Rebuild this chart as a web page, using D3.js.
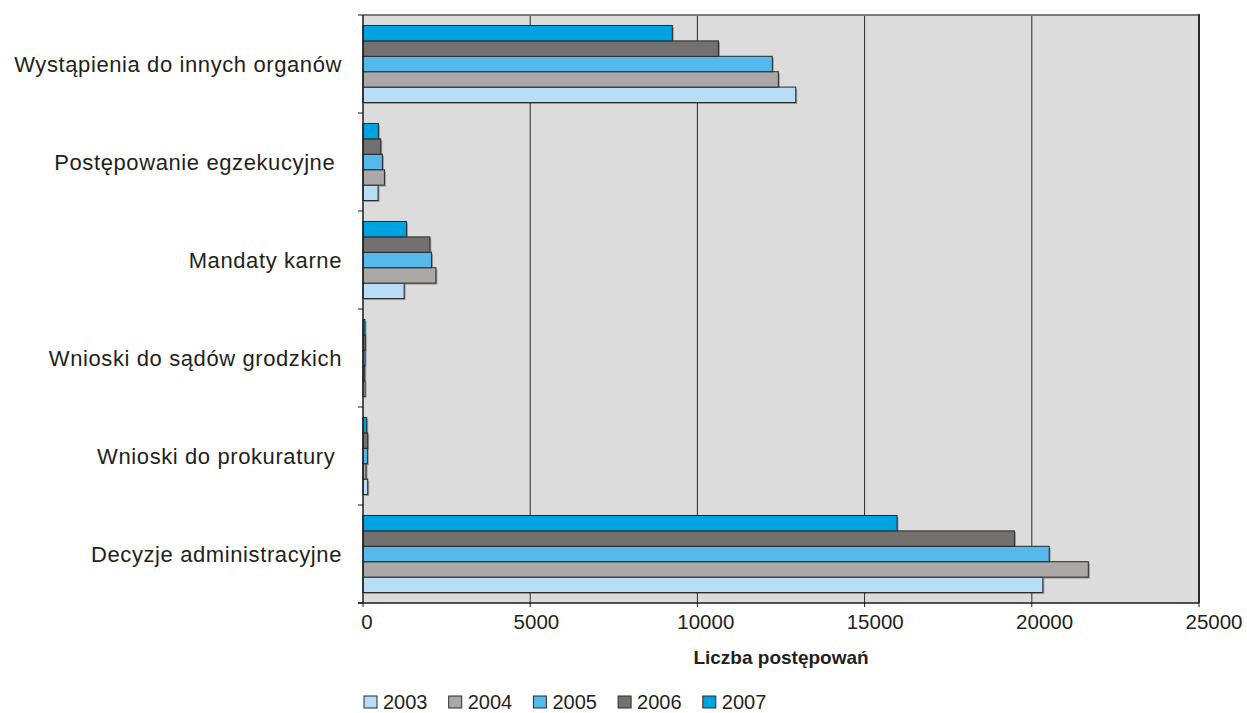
<!DOCTYPE html>
<html>
<head>
<meta charset="utf-8">
<script src="https://cdn.jsdelivr.net/npm/d3@7"></script>
<style>
  body { margin: 0; background: #fff; }
  svg text { font-family: "Liberation Sans", Arial, sans-serif; fill: #231f20; }
</style>
</head>
<body>
<svg id="chart"></svg>
<script>
// Dane wykresu
const categories = [
    "Wystąpienia do innych organów",
    "Postępowanie egzekucyjne ",
    "Mandaty karne",
    "Wnioski do sądów grodzkich",
    "Wnioski do prokuratury ",
    "Decyzje administracyjne"
];
const years = ["2003", "2004", "2005", "2006", "2007"];
const values2003 = [12940, 450, 1230, 60, 140, 20330];
const values2004 = [12420, 640, 2180, 50, 90, 21690];
const values2005 = [12240, 580, 2050, 60, 130, 20520];
const values2006 = [10630, 530, 2000, 70, 140, 19480];
const values2007 = [9250, 460, 1300, 60, 110, 15970];
const xTicks = [0, 5000, 10000, 15000, 20000, 25000];
const colors = ["#b7def6", "#aaa9a7", "#56b9eb", "#72716f", "#00a3e2"];

const series = [values2003, values2004, values2005, values2006, values2007];

const width = 1247, height = 713;
const margin = { top: 15, right: 48, bottom: 110, left: 363 };

const svg = d3.select("#chart")
    .attr("width", width)
    .attr("height", height);

const x = d3.scaleLinear()
    .domain([0, 25000])
    .range([margin.left, width - margin.right]);

// etykiety osi X są lekko przesunięte względem linii siatki
const xLabel = d3.scaleLinear()
    .domain([0, 25000])
    .range([margin.left + 4, width - margin.right + 15]);

const y = d3.scaleBand()
    .domain(categories)
    .range([margin.top, height - margin.bottom])
    .padding(0);

// 2007 na górze, 2003 na dole w każdej grupie
const yInner = d3.scaleBand()
    .domain(years.slice().reverse())
    .range([0, y.bandwidth()])
    .paddingInner(0)
    .paddingOuter(0.68);

// Tło obszaru wykresu
svg.append("rect")
    .attr("x", x(0))
    .attr("y", margin.top)
    .attr("width", x(25000) - x(0))
    .attr("height", height - margin.bottom - margin.top)
    .attr("fill", "#dcdcdc");

// Siatka pionowa
svg.append("g")
    .selectAll("line")
    .data(xTicks.filter(d => d > 0 && d < 25000))
    .enter().append("line")
    .attr("x1", d => x(d)).attr("x2", d => x(d))
    .attr("y1", margin.top).attr("y2", height - margin.bottom)
    .attr("stroke", "#2b2b2b")
    .attr("stroke-width", 1);

// Górna i prawa krawędź
svg.append("line")
    .attr("x1", x(0)).attr("x2", x(25000))
    .attr("y1", margin.top).attr("y2", margin.top)
    .attr("stroke", "#7a7a7a").attr("stroke-width", 2);
svg.append("line")
    .attr("x1", x(25000)).attr("x2", x(25000))
    .attr("y1", margin.top - 1).attr("y2", height - margin.bottom)
    .attr("stroke", "#2b2b2b").attr("stroke-width", 2);

// Słupki
const groups = svg.append("g")
    .selectAll("g")
    .data(categories)
    .enter().append("g")
    .attr("transform", d => `translate(0,${y(d)})`);

const barData = (c, ci) => years.map((yr, i) => ({ year: yr, value: series[i][ci], color: colors[i] }));

groups.each(function (c, ci) {
    const g = d3.select(this);
    const data = barData(c, ci);
    // cień
    g.selectAll("rect.shadow")
        .data(data)
        .enter().append("rect")
        .attr("class", "shadow")
        .attr("x", x(0) + 1.5)
        .attr("y", d => yInner(d.year) + 1.5)
        .attr("width", d => x(d.value) - x(0))
        .attr("height", yInner.bandwidth())
        .attr("fill", "rgba(0,0,0,0.3)");
    g.selectAll("rect.bar")
        .data(data)
        .enter().append("rect")
        .attr("class", "bar")
        .attr("x", x(0))
        .attr("y", d => yInner(d.year))
        .attr("width", d => x(d.value) - x(0))
        .attr("height", yInner.bandwidth())
        .attr("fill", d => d.color)
        .attr("stroke", "#2a2a2a")
        .attr("stroke-width", 1);
});

// Oś Y
const yAxis = svg.append("g");
yAxis.append("line")
    .attr("x1", x(0)).attr("x2", x(0))
    .attr("y1", margin.top).attr("y2", height - margin.bottom)
    .attr("stroke", "#1a1a1a").attr("stroke-width", 1.5);
const yEdges = categories.map(c => y(c)).concat([height - margin.bottom]);
yAxis.selectAll("line.tick")
    .data(yEdges)
    .enter().append("line")
    .attr("class", "tick")
    .attr("x1", x(0) - 5).attr("x2", x(0))
    .attr("y1", d => d).attr("y2", d => d)
    .attr("stroke", "#1a1a1a").attr("stroke-width", 1);
yAxis.selectAll("text")
    .data(categories)
    .enter().append("text")
    .attr("x", 342)
    .attr("y", d => y(d) + y.bandwidth() / 2)
    .attr("dy", "0.36em")
    .attr("text-anchor", "end")
    .style("white-space", "pre")
    .style("font-size", "22px")
    .style("letter-spacing", "0.6px")
    .text(d => d);

// Oś X
const xAxis = svg.append("g");
xAxis.append("line")
    .attr("x1", x(0) - 5).attr("x2", x(25000))
    .attr("y1", height - margin.bottom).attr("y2", height - margin.bottom)
    .attr("stroke", "#1a1a1a").attr("stroke-width", 1.5);
xAxis.selectAll("line.tick")
    .data(xTicks)
    .enter().append("line")
    .attr("class", "tick")
    .attr("x1", d => x(d)).attr("x2", d => x(d))
    .attr("y1", height - margin.bottom).attr("y2", height - margin.bottom + 4)
    .attr("stroke", "#1a1a1a").attr("stroke-width", 1);
xAxis.selectAll("text")
    .data(xTicks)
    .enter().append("text")
    .attr("x", d => xLabel(d))
    .attr("y", 629)
    .attr("text-anchor", "middle")
    .style("font-size", "20.5px")
    .text(d => d);

// Tytuł osi X
svg.append("text")
    .attr("x", (x(0) + x(25000)) / 2)
    .attr("y", 664)
    .attr("text-anchor", "middle")
    .style("font-size", "19px")
    .style("font-weight", "bold")
    .text("Liczba postępowań");

// Legenda
const legend = svg.append("g")
    .selectAll("g")
    .data(years)
    .enter().append("g")
    .attr("transform", (d, i) => `translate(${364 + i * 84.7},696)`);
legend.append("rect")
    .attr("width", 13)
    .attr("height", 12)
    .attr("fill", (d, i) => colors[i])
    .attr("stroke", "#2a2a2a")
    .attr("stroke-width", 1);
legend.append("text")
    .attr("x", 19)
    .attr("y", 12.5)
    .style("font-size", "20px")
    .text(d => d);
</script>
</body>
</html>
